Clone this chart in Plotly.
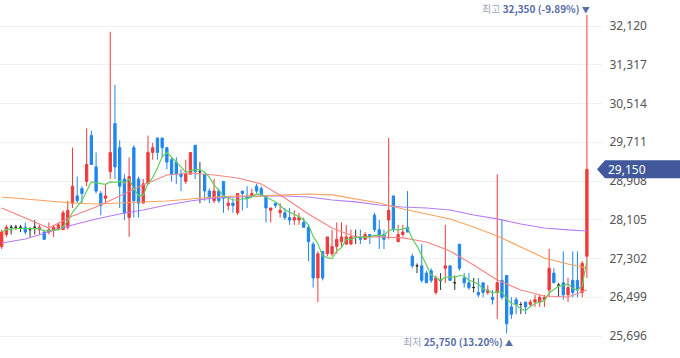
import plotly.graph_objects as go
import pandas as pd

# ---- data (KRW) ----
opens = [27550,27800,27950,27950,27950,27950,27900,27950,27900,27850,27850,27900,27900,27900,27950,28450,28600,28750,28900,29850,
         29200,28650,28550,29100,30100,29600,28950,28150,29600,28950,28450,28850,29500,29800,29800,29600,29350,29300,29050,28900,
         29050,29650,29100,29050,28700,28500,28700,28900,28400,28450,28250,28700,28600,28600,28800,28750,28600,28300,28450,28250,
         28250,28150,28100,28100,28050,27950,27600,26900,27450,27400,27400,27550,27650,27600,27600,27750,27750,27700,27800,28200,
         27900,27800,28100,28600,27650,27800,27950,27350,27150,27150,27000,27050,26600,26850,27100,27150,26800,27600,26900,26800,
         26700,26600,26800,26600,26500,26600,26850,26950,26300,26450,26350,26400,26350,26400,26400,26450,26650,27000,26750,26800,
         26550,26850,26850,26600,27350]
highs = [27900,28000,28000,28000,28000,28050,27950,28100,28000,27900,28050,28000,28050,28300,28500,29600,29000,28800,30000,29950,
         29500,28700,28850,32000,30900,29750,29050,29400,29650,29000,28950,29850,29700,29800,29800,29600,29400,29400,29150,29350,
         29500,29650,29300,29050,28750,28950,28750,28900,28600,28550,28650,28700,28800,28750,28850,28800,28600,28350,28450,28450,
         28350,28350,28300,28250,28150,28000,27650,27450,27450,27750,27900,28050,28050,28000,27900,27900,27900,27850,27800,28250,
         28100,27900,29800,28600,28000,28000,28700,27400,27200,27600,27050,27100,26950,27000,28000,27150,26950,27600,27000,27000,
         26900,26900,26800,26750,26650,29050,28100,26950,26500,26500,26400,26400,26450,26550,26550,26550,27500,27100,26800,27450,
         26900,27450,27450,27250,32350]
lows = [27500,27750,27800,27900,27850,27800,27750,27800,27800,27700,27800,27750,27900,27900,27900,28350,28450,28450,28800,29250,
        28650,28200,28450,28950,28950,28350,28100,27750,28150,28150,28450,28850,29350,29350,29400,29150,28900,28850,28700,28850,
        29050,28950,28450,28500,28450,28450,28450,28250,28300,28250,28200,28300,28350,28600,28650,28600,28050,28050,28350,28150,
        28100,28000,28000,28000,27950,27250,26700,26400,26850,27350,27350,27400,27550,27600,27600,27600,27600,27700,27600,27850,
        27500,27500,27700,27850,27650,27750,27850,27100,27000,26800,26800,26800,26550,26650,26800,26850,26650,27050,26700,26650,
        26600,26500,26500,26550,26350,26050,26450,25750,26050,26150,26150,26150,26300,26300,26300,26300,26500,26800,26500,26450,
        26400,26500,26500,26500,26900]
closes = [27850,27950,27950,27950,27950,27850,27900,27950,27950,27700,27900,27950,28000,28250,28300,28800,28500,28650,29250,29250,
          28700,28400,28600,29500,29200,28800,28250,29000,28500,28450,28850,29500,29600,29500,29600,29300,29050,29050,29000,29050,
          29500,29100,29100,28700,28550,28700,28500,28550,28450,28400,28650,28650,28550,28650,28700,28600,28350,28350,28400,28300,
          28150,28100,28150,28150,27950,27650,26900,27400,26900,27750,27550,27700,27750,27750,27750,27750,27700,27800,27750,27900,
          27750,27700,28300,27900,27800,27850,27850,27150,27150,26850,26800,26850,26900,26850,27150,26850,26800,27100,26800,26700,
          26700,26550,26600,26650,26450,26800,26500,25950,26150,26350,26350,26300,26400,26450,26500,26500,27100,26800,26750,26550,
          26700,26600,26650,27200,29150]

ma_idx = [0,5,10,15,20,25,30,35,40,45,50,55,60,65,70,75,80,85,90,95,100,105,110,115,120,124]
ma20 = [28350,28150,27935,28184,28370,28598,28826,29033,29074,29033,28971,28847,28557,28225,27935,27749,27749,27728,27645,27458,
        27168,26857,26650,26526,26505,26650]
ma60 = [28577,28536,28494,28453,28432,28453,28474,28494,28536,28577,28598,28598,28619,28639,28619,28536,28453,28329,28225,28122,
        27956,27769,27541,27313,27189,27106]
ma120 = [27624,27707,27852,27997,28122,28225,28308,28411,28494,28557,28577,28598,28598,28577,28515,28474,28411,28370,28349,28308,
         28204,28122,28018,27935,27894,27873]

tick_vals = [25696, 26499, 27302, 28105, 28908, 29711, 30514, 31317, 32120]

# ---- styling ----
UP = '#f03a3a'
DOWN = '#1f86ee'
FLAT = '#333333'
NARROW = 'Liberation Sans Narrow, Noto Sans CJK KR, sans-serif'

n = len(closes)
xs = list(range(n))
ma5 = pd.Series(closes).rolling(5, min_periods=1).mean()

fig = go.Figure()

def add_candles(sel, color):
    fig.add_trace(go.Candlestick(
        x=[xs[i] for i in sel], open=[opens[i] for i in sel], high=[highs[i] for i in sel],
        low=[lows[i] for i in sel], close=[closes[i] for i in sel],
        increasing=dict(line=dict(color=color, width=1), fillcolor=color),
        decreasing=dict(line=dict(color=color, width=1), fillcolor=color),
        whiskerwidth=0, showlegend=False, hoverinfo='skip'))

add_candles([i for i in xs if closes[i] > opens[i]], UP)
add_candles([i for i in xs if closes[i] < opens[i]], DOWN)
add_candles([i for i in xs if closes[i] == opens[i]], FLAT)

fig.add_trace(go.Scatter(x=ma_idx, y=ma120, mode='lines', line=dict(color='#b57cf7', width=1.2), showlegend=False, hoverinfo='skip'))
fig.add_trace(go.Scatter(x=ma_idx, y=ma60, mode='lines', line=dict(color='#fba35e', width=1.2), showlegend=False, hoverinfo='skip'))
fig.add_trace(go.Scatter(x=ma_idx, y=ma20, mode='lines', line=dict(color='#f58686', width=1.2), showlegend=False, hoverinfo='skip'))
fig.add_trace(go.Scatter(x=xs, y=ma5, mode='lines', line=dict(color='#5fcf5f', width=1.2), showlegend=False, hoverinfo='skip'))

hi_i = max(xs, key=lambda i: highs[i])
lo_i = min(xs, key=lambda i: lows[i])
hi, lo, last = highs[hi_i], lows[lo_i], closes[-1]

fig.add_annotation(x=hi_i, y=hi, xref='x', yref='y', xanchor='right', yanchor='bottom', showarrow=False,
                   xshift=5, yshift=-3,
                   text=(f"<span style='color:#a0a7c2'>최고</span> <b>{hi:,} ({(last-hi)/hi*100:.2f}%)</b>"
                         f" <span style='font-size:8px'>▼</span>"),
                   font=dict(family=NARROW, size=10, color='#5a6ea8'))
fig.add_annotation(x=lo_i, y=lo, xref='x', yref='y', xanchor='right', yanchor='top', showarrow=False,
                   xshift=8, yshift=1,
                   text=(f"<span style='color:#a0a7c2'>최저</span> <b>{lo:,} ({(last-lo)/lo*100:.2f}%)</b>"
                         f" <span style='font-size:8px'>▲</span>"),
                   font=dict(family=NARROW, size=10, color='#5a6ea8'))

# last price tag on the axis
px = 1 / 602.0
h = 186
fig.add_shape(type='path', xref='paper', yref='y', layer='above',
              path=f"M {597*px},{last} L {605*px},{last+h} L {680*px},{last+h} L {680*px},{last-h} L {605*px},{last-h} Z",
              fillcolor='#41599a', line=dict(width=0))
fig.add_annotation(x=606*px, y=last, xref='paper', yref='y', xanchor='left', yanchor='middle', showarrow=False,
                   text=f"{last:,}", font=dict(family='Noto Sans, sans-serif', size=12, color='white'))

fig.update_layout(
    width=680, height=358, margin=dict(l=0, r=78, t=0, b=0, autoexpand=False),
    paper_bgcolor='white', plot_bgcolor='white',
    xaxis=dict(range=[-0.36, 127.2], showgrid=False, showticklabels=False, zeroline=False,
               rangeslider=dict(visible=False), fixedrange=True),
    yaxis=dict(range=[25241, 32659], side='right', tickvals=tick_vals,
               ticktext=[f"{v:,}" for v in tick_vals], showgrid=True, gridcolor='#f1f1f4', gridwidth=1,
               zeroline=False, ticks='outside', ticklen=4, tickcolor='rgba(0,0,0,0)', fixedrange=True,
               tickfont=dict(family='Noto Sans, sans-serif', size=12, color='#555555')),
    showlegend=False, hovermode=False,
)

fig.write_html("out.html", config={'displayModeBar': False, 'staticPlot': True},
               post_script="document.body.style.margin='0';document.body.style.padding='0';")
